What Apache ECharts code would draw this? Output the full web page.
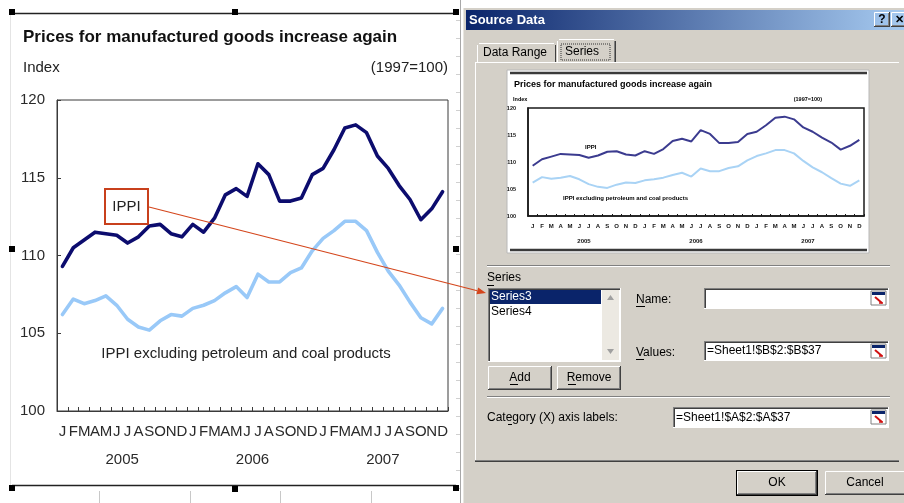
<!DOCTYPE html>
<html><head><meta charset="utf-8">
<script src="https://cdn.jsdelivr.net/npm/echarts@6/dist/echarts.min.js"></script>
<style>html,body{margin:0;padding:0;background:#fff}#c{width:904px;height:503px}</style>
</head><body><div id="c"></div>
<script>
// ---- data ----
const monthLabels = ['J','F','M','A','M','J','J','A','S','O','N','D',
                     'J','F','M','A','M','J','J','A','S','O','N','D',
                     'J','F','M','A','M','J','J','A','S','O','N','D'];
const yearLabels = ['2005','2006','2007'];
const ippi = [109.3,110.5,111.0,111.5,111.4,111.3,110.8,111.2,111.9,112.0,111.4,111.2,
              112.0,111.5,112.4,113.9,114.3,113.8,115.9,115.2,113.5,113.5,113.7,115.2,
              115.6,116.8,118.2,118.4,117.9,116.4,115.6,114.5,113.6,112.3,113.0,114.1];
const ippiExPetroleum = [106.2,107.2,106.9,107.1,107.4,106.8,105.9,105.4,105.2,105.8,106.2,106.1,
              106.6,106.8,107.1,107.6,108.0,107.3,108.8,108.3,108.3,108.9,109.2,110.3,
              111.1,111.6,112.2,112.2,111.6,110.2,109.0,108.1,107.0,106.0,105.6,106.6];
const yMin = 100, yMax = 120, yStep = 5;

// ---- helpers for chrome ----
const F = 'Liberation Sans, Arial, sans-serif';
const G = [];
function R(x,y,w,h,fill,stroke,lw,z){G.push({type:'rect',silent:true,z:z===undefined?-10:z,shape:{x:x,y:y,width:w,height:h},style:{fill:fill||'none',stroke:stroke||null,lineWidth:lw||0}});}
function L(x1,y1,x2,y2,stroke,lw,z){G.push({type:'line',silent:true,z:z===undefined?-9:z,shape:{x1:x1,y1:y1,x2:x2,y2:y2},style:{stroke:stroke,lineWidth:lw||1}});}
function T(x,y,text,o){o=o||{};G.push({type:'text',silent:true,z:o.z===undefined?-8:o.z,x:x,y:y,style:{text:text,fill:o.color||'#000',font:(o.bold?'bold ':'')+(o.size||12)+'px '+F,textAlign:o.align||'left',textVerticalAlign:'middle'}});}
function raised(x,y,w,h){R(x,y,w,h,'#d4d0c8');L(x+0.5,y+0.5,x+w-1,y+0.5,'#fff');L(x+0.5,y+0.5,x+0.5,y+h-1,'#fff');
  L(x,y+h-0.5,x+w,y+h-0.5,'#404040');L(x+w-0.5,y,x+w-0.5,y+h,'#404040');L(x+1,y+h-1.5,x+w-1,y+h-1.5,'#808080');L(x+w-1.5,y+1,x+w-1.5,y+h-1,'#808080');}
function sunken(x,y,w,h,fill){R(x,y,w,h,fill||'#fff');L(x,y+0.5,x+w,y+0.5,'#808080');L(x+0.5,y,x+0.5,y+h,'#808080');
  L(x+1,y+1.5,x+w-1,y+1.5,'#404040');L(x+1.5,y+1,x+1.5,y+h-1,'#404040');L(x,y+h-0.5,x+w,y+h-0.5,'#fff');L(x+w-0.5,y,x+w-0.5,y+h,'#fff');}
function collapseIcon(x,y){R(x,y,15,14,'#fff','#808080',1,-7);R(x+1,y+1,13,3,'#0a246a',null,0,-7);L(x+4,y+6,x+11,y+12,'#d01010',2,-7);L(x+8,y+12,x+12,y+12,'#d01010',1.5,-7);}

// ---- spreadsheet background & chart frame ----
[99,190,280,371].forEach(function(x){L(x+0.5,491,x+0.5,503,'#c8c8c8',1);});
L(460.5,0,460.5,503,'#a8a8a8',1);
for(let y=20;y<503;y+=18){L(456,y+0.5,460,y+0.5,'#d0d0d0',1);}
L(12,13.5,456,13.5,'#222',1.5);L(12,485.5,456,485.5,'#222',1.5);
L(10.5,13,10.5,486,'#e4e4e4',1);
[[12,12],[235,12],[456,12],[12,249],[456,249],[12,488],[235,489],[456,488]].forEach(function(p){R(p[0]-3,p[1]-3,6,6,'#000',null,0,50);});

// ---- main chart texts ----
T(23,37,'Prices for manufactured goods increase again',{bold:true,size:17,color:'#111'});
T(23,68,'Index',{size:15,color:'#222'});
T(448,68,'(1997=100)',{size:15,color:'#222',align:'right'});
T(246,354,'IPPI excluding petroleum and coal products',{size:15,color:'#222',align:'center'});
R(105,189,43,35,'#fff','#c8401c',2,20);
T(126.5,207,'IPPI',{size:15,color:'#222',align:'center',z:21});

// ---- dialog ----
R(463,8,441,495,'#d4d0c8');
L(463.5,8,463.5,503,'#e8e6e0');
G.push({type:'rect',silent:true,z:-9,shape:{x:466,y:10,width:438,height:20},style:{fill:new echarts.graphic.LinearGradient(0,0,1,0,[{offset:0,color:'#0a246a'},{offset:1,color:'#a6caf0'}])}});
T(469,20,'Source Data',{bold:true,size:13,color:'#fff'});
raised(874,12,16,15);T(882,19.5,'?',{bold:true,size:12,align:'center',z:-7});
raised(891,12,16,15);T(899,19.5,'✕',{bold:true,size:11,align:'center',z:-7});
// tab panel
R(475,62,424,400,'#d4d0c8');
L(475,62.5,899,62.5,'#fff');L(475.5,62,475.5,462,'#fff');
L(475,461.5,899,461.5,'#404040');L(475,460.5,899,460.5,'#808080');
// tabs
R(477,43,78,19,'#d4d0c8');L(477.5,45,477.5,62,'#fff');L(479,43.5,554,43.5,'#fff');L(555.5,45,555.5,62,'#404040');
T(483,53,'Data Range',{size:12});
R(557,39,58,24,'#d4d0c8');L(557.5,41,557.5,63,'#fff');L(559,39.5,614,39.5,'#fff');L(614.5,41,614.5,62,'#808080');L(615.5,41,615.5,62,'#404040');
G.push({type:'rect',silent:true,z:-7,shape:{x:561,y:44,width:49,height:16},style:{fill:'none',stroke:'#333',lineWidth:1,lineDash:[1,1]}});
T(565,52,'Series',{size:12});
// preview box
R(507,70,362,183,'#fff','#b8b8b8',1);
L(510,73,867,73,'#3a3a3a',2.5);L(510,250,867,250,'#3a3a3a',2.5);
T(514,85,'Prices for manufactured goods increase again',{bold:true,size:9,z:5});
T(513,99,'Index',{bold:true,size:5.5,z:5});
T(822,99,'(1997=100)',{bold:true,size:5.5,align:'right',z:5});
T(585,147,'IPPI',{bold:true,size:6,z:5});
T(563,198,'IPPI excluding petroleum and coal products',{bold:true,size:6,z:5});
// separators
L(487,265.5,890,265.5,'#808080');L(487,266.5,890,266.5,'#fff');
L(487,396.5,890,396.5,'#808080');L(487,397.5,890,397.5,'#fff');
// series list
T(487,278,'Series',{size:12});L(487,285.5,494,285.5,'#000');
sunken(488,288,133,74,'#fff');
R(490,290,111,14,'#0a246a',null,0,-8);
T(491,297,'Series3',{size:12,color:'#fff',z:-7});
T(491,312,'Series4',{size:12});
R(602,290,17,70,'#ece9e2',null,0,-8);
raised(602,290,17,16);G.push({type:'polygon',silent:true,z:-6,shape:{points:[[610.5,295],[607,300],[614,300]]},style:{fill:'#a0a0a0'}});
raised(602,343,17,17);G.push({type:'polygon',silent:true,z:-6,shape:{points:[[610.5,354],[607,349],[614,349]]},style:{fill:'#a0a0a0'}});
raised(488,366,64,24);T(520,378,'Add',{size:12,align:'center',z:-6});L(510,384.5,518,384.5,'#000',1,-6);
raised(557,366,64,24);T(589,378,'Remove',{size:12,align:'center',z:-6});L(568,384.5,576,384.5,'#000',1,-6);
T(636,300,'Name:',{size:12});L(636,306.5,645,306.5,'#000');
sunken(704,288,185,21,'#fff');collapseIcon(871,291);
T(636,353,'Values:',{size:12});L(636,359.5,644,359.5,'#000');
sunken(704,341,185,20,'#fff');collapseIcon(871,344);
T(707,351,'=Sheet1!$B$2:$B$37',{size:12});
T(487,418,'Category (X) axis labels:',{size:12});L(508,424.5,512,424.5,'#000');
sunken(673,407,216,21,'#fff');collapseIcon(871,410);
T(676,417.5,'=Sheet1!$A$2:$A$37',{size:12});
// buttons
R(736,470,82,26,'#000',null,0,-10);raised(737,471,80,24);T(777,483,'OK',{size:12,align:'center',z:-6});
raised(825,471,82,24);T(865,483,'Cancel',{size:12,align:'center',z:-6});

// ---- connector arrow ----
(function(){const x1=149,y1=207,x2=486,y2=293;const dx=x2-x1,dy=y2-y1,len=Math.sqrt(dx*dx+dy*dy),ux=dx/len,uy=dy/len;
  const hl=9,hw=3.5,bx=x2-ux*hl,by=y2-uy*hl;
  G.push({type:'line',silent:true,z:60,shape:{x1:x1,y1:y1,x2:bx,y2:by},style:{stroke:'#d4461c',lineWidth:1.2}});
  G.push({type:'polygon',silent:true,z:60,shape:{points:[[x2,y2],[bx-uy*hw,by+ux*hw],[bx+uy*hw,by-ux*hw]]},style:{fill:'#d4461c'}});})();

// ---- chart ----
const axisCol = '#3a3a3a';
const chart = echarts.init(document.getElementById('c'));
chart.setOption({
  animation:false,
  backgroundColor:'#fff',
  textStyle:{fontFamily:F},
  grid:[
    {left:57,top:100,width:391,height:311,show:true,borderColor:axisCol,borderWidth:1,backgroundColor:'transparent'},
    {left:528,top:108,width:336,height:108,show:true,borderColor:'#1a1a1a',borderWidth:1.5,backgroundColor:'transparent'}
  ],
  xAxis:[
    {gridIndex:0,type:'category',data:monthLabels,boundaryGap:true,
     axisLine:{lineStyle:{color:axisCol,width:1}},
     axisTick:{show:true,inside:true,length:4,interval:0,lineStyle:{color:axisCol}},
     axisLabel:{interval:0,margin:13,fontSize:15,color:'#2a2a2a',fontFamily:F}},
    {gridIndex:0,type:'category',data:yearLabels,position:'bottom',offset:28,
     axisLine:{show:false},axisTick:{show:false},
     axisLabel:{interval:0,margin:13,fontSize:15,color:'#2a2a2a',fontFamily:F}},
    {gridIndex:1,type:'category',data:monthLabels,boundaryGap:true,
     axisLine:{lineStyle:{color:'#1a1a1a',width:1.5}},
     axisTick:{show:true,inside:true,length:2,interval:0,lineStyle:{color:'#1a1a1a'}},
     axisLabel:{interval:0,margin:7,fontSize:6,fontWeight:'bold',color:'#111',fontFamily:F}},
    {gridIndex:1,type:'category',data:yearLabels,position:'bottom',offset:15,
     axisLine:{show:false},axisTick:{show:false},
     axisLabel:{interval:0,margin:7,fontSize:6,fontWeight:'bold',color:'#111',fontFamily:F}}
  ],
  yAxis:[
    {gridIndex:0,type:'value',min:yMin,max:yMax,interval:yStep,
     axisLine:{show:true,lineStyle:{color:axisCol}},
     axisTick:{show:true,inside:true,length:4,lineStyle:{color:axisCol}},
     splitLine:{show:false},
     axisLabel:{margin:12,fontSize:15,color:'#2a2a2a',fontFamily:F}},
    {gridIndex:1,type:'value',min:yMin,max:yMax,interval:yStep,
     axisLine:{show:true,lineStyle:{color:'#1a1a1a',width:1.5}},
     axisTick:{show:false},splitLine:{show:false},
     axisLabel:{margin:12,fontSize:5.5,fontWeight:'bold',color:'#111',fontFamily:F}}
  ],
  series:[
    {name:'IPPI',type:'line',xAxisIndex:0,yAxisIndex:0,data:ippi,symbol:'none',z:3,
     lineStyle:{color:'#0c0c6e',width:3.6,join:'round',cap:'round'}},
    {name:'IPPI excl. petroleum',type:'line',xAxisIndex:0,yAxisIndex:0,data:ippiExPetroleum,symbol:'none',z:3,
     lineStyle:{color:'#99c9f8',width:3.6,join:'round',cap:'round'}},
    {name:'IPPI preview',type:'line',xAxisIndex:2,yAxisIndex:1,data:ippi,symbol:'none',z:3,
     lineStyle:{color:'#3b3b8f',width:2}},
    {name:'IPPI excl. preview',type:'line',xAxisIndex:2,yAxisIndex:1,data:ippiExPetroleum,symbol:'none',z:3,
     lineStyle:{color:'#a9d3f5',width:2}}
  ],
  graphic:{elements:G}
});
</script>
</body></html>
